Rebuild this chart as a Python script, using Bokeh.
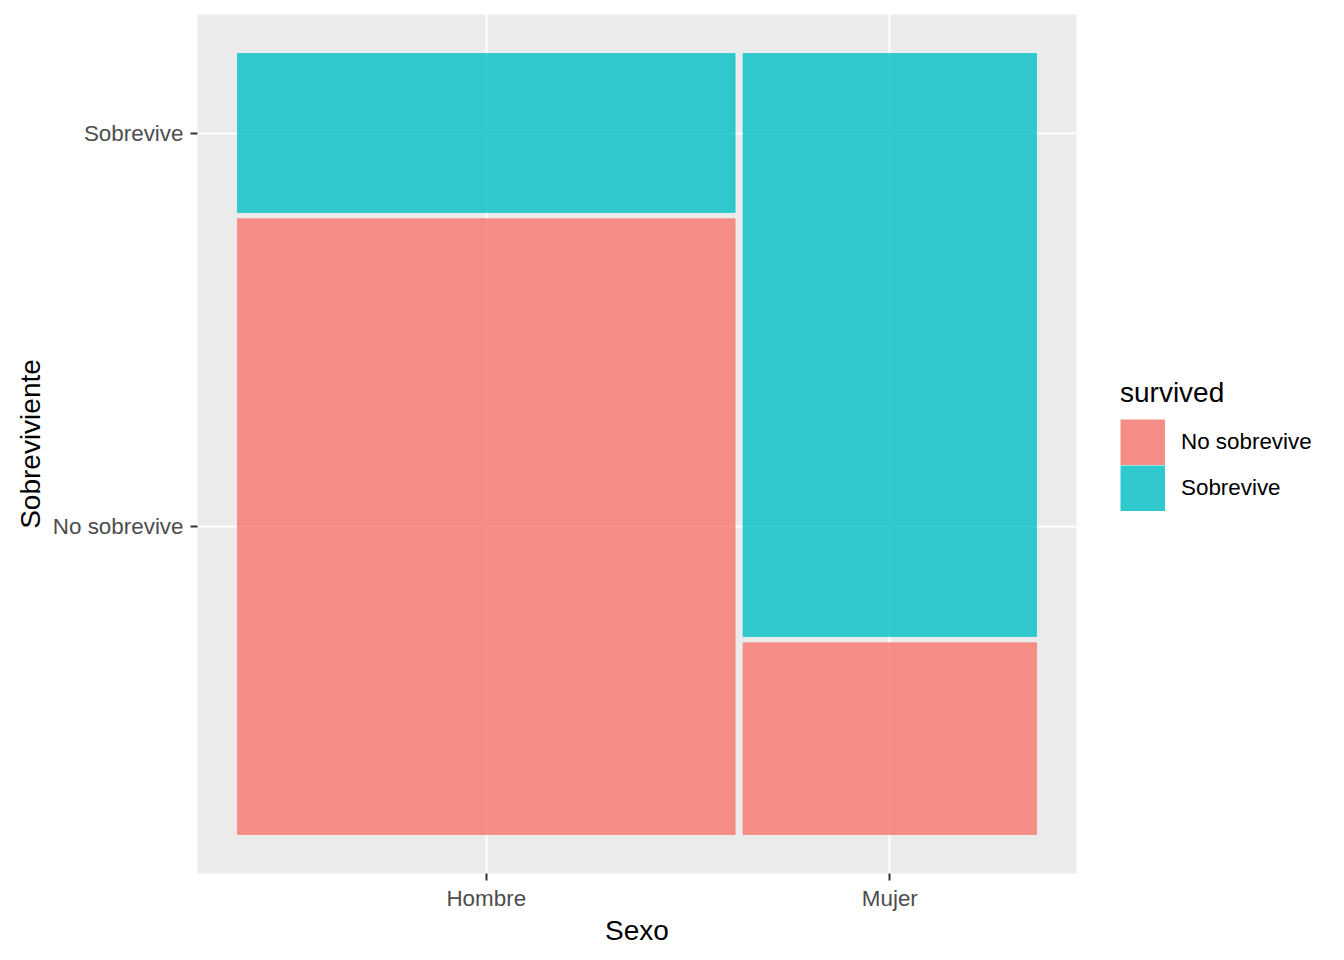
from bokeh.plotting import figure
from bokeh.models import ColumnDataSource, FixedTicker, Legend, LegendItem, Range1d
from bokeh.embed import file_html
from bokeh.resources import INLINE

# ---- data (counts read from the mosaic) ----
sexo = ["Hombre", "Mujer"]
survived_levels = ["No sobrevive", "Sobrevive"]
no_sobrevive = [523, 96]
sobrevive = [135, 292]
fill_colors = ["#F8766D", "#00BFC4"]
key_colors = ["#F58D86", "#2FC8CC"]   # legend keys (fill at 0.8 alpha as seen)

offset_x = 0.01
offset_y = 0.008

tot = [a + b for a, b in zip(no_sobrevive, sobrevive)]
N = sum(tot)
widths = [(1 - offset_x * (len(sexo) - 1)) * t / N for t in tot]
x0 = []
cur = 0.0
for w in widths:
    x0.append(cur)
    cur += w + offset_x
x1 = [a + w for a, w in zip(x0, widths)]

ns_top = [(1 - offset_y) * n / t for n, t in zip(no_sobrevive, tot)]
s_bottom = [v + offset_y for v in ns_top]

src_ns = ColumnDataSource(dict(left=x0, right=x1, bottom=[0.0] * len(sexo), top=ns_top))
src_s = ColumnDataSource(dict(left=x0, right=x1, bottom=s_bottom, top=[1.0] * len(sexo)))

FONT = "Liberation Sans"

p = figure(frame_width=879, frame_height=859,
           min_border_left=197, min_border_right=260, min_border_top=14, min_border_bottom=79,
           x_range=Range1d(-0.05, 1.05), y_range=Range1d(-0.05, 1.05),
           output_backend="svg", toolbar_location=None,
           background_fill_color="#EBEBEB", border_fill_color="white")
p.outline_line_color = None

r_ns = p.quad(left="left", right="right", bottom="bottom", top="top", source=src_ns,
              fill_color=fill_colors[0], fill_alpha=0.8,
              line_color=fill_colors[0], line_alpha=0.6, line_width=1)
r_s = p.quad(left="left", right="right", bottom="bottom", top="top", source=src_s,
             fill_color=fill_colors[1], fill_alpha=0.8,
             line_color=fill_colors[1], line_alpha=0.6, line_width=1)

# legend key proxies (thick butt-capped lines fill the whole key box; no visible data)
nan = float("nan")
k_ns = p.line(x=[nan, nan], y=[nan, nan], line_color=key_colors[0], line_width=46, line_cap="butt")
k_s = p.line(x=[nan, nan], y=[nan, nan], line_color=key_colors[1], line_width=46, line_cap="butt")

# ticks
xt = [(a + b) / 2 for a, b in zip(x0, x1)]
yt = [ns_top[0] / 2, (s_bottom[0] + 1.0) / 2]
p.xaxis.ticker = FixedTicker(ticks=xt, minor_ticks=[])
p.yaxis.ticker = FixedTicker(ticks=yt, minor_ticks=[])
p.xaxis.major_label_overrides = {xt[i]: sexo[i] for i in range(len(sexo))}
p.yaxis.major_label_overrides = {yt[i]: survived_levels[i] for i in range(len(survived_levels))}

for ax in (p.xaxis[0], p.yaxis[0]):
    ax.axis_line_color = None
    ax.major_tick_line_color = "#333333"
    ax.major_tick_line_width = 2
    ax.major_tick_out = 7
    ax.major_tick_in = 0
    ax.minor_tick_line_color = None
    ax.major_label_text_font = FONT
    ax.major_label_text_font_size = "22.4px"
    ax.major_label_text_color = "#4D4D4D"
    ax.axis_label_text_font = FONT
    ax.axis_label_text_font_size = "28px"
    ax.axis_label_text_font_style = "normal"
    ax.axis_label_text_color = "black"

p.xaxis.axis_label = "Sexo"
p.yaxis.axis_label = "Sobreviviente"
p.xaxis.major_label_standoff = 5
p.yaxis.major_label_standoff = 7
p.xaxis.axis_label_standoff = 1
p.yaxis.axis_label_standoff = 4

p.xgrid.grid_line_color = "white"
p.ygrid.grid_line_color = "white"
p.xgrid.grid_line_width = 2
p.ygrid.grid_line_width = 2

legend = Legend(items=[LegendItem(label=survived_levels[0], renderers=[k_ns]),
                       LegendItem(label=survived_levels[1], renderers=[k_s])],
                location=(44, 362), title="survived",
                title_text_font=FONT, title_text_font_size="28px", title_text_font_style="normal",
                title_text_color="black", title_standoff=10,
                label_text_font=FONT, label_text_font_size="22.4px", label_text_color="black",
                glyph_width=45, glyph_height=46, label_height=46, label_standoff=16,
                spacing=0, padding=0, margin=0,
                border_line_color=None, background_fill_alpha=0)
p.add_layout(legend, "right")

open("out.html", "w").write(file_html(p, INLINE))
